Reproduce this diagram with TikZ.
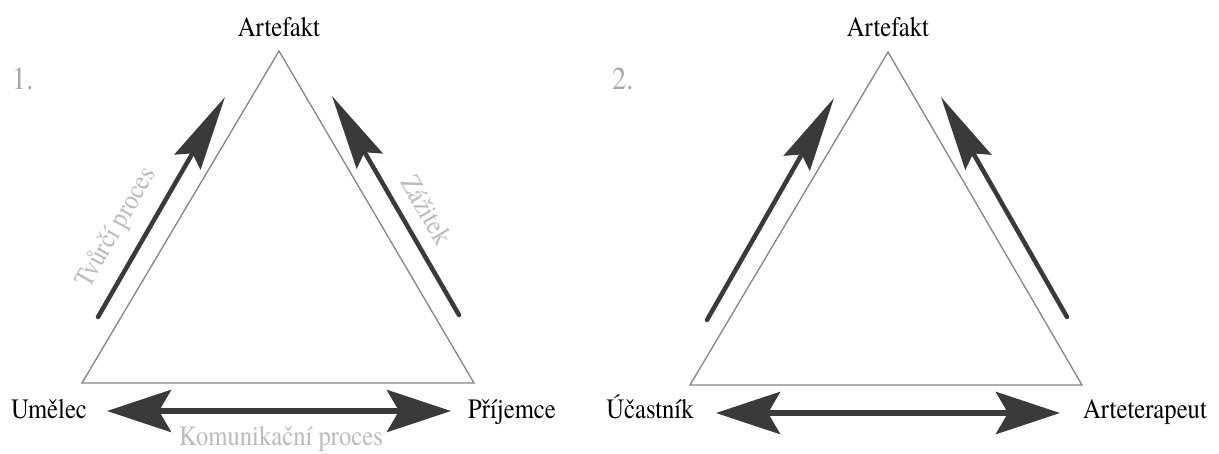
\documentclass[tikz,border=0pt]{standalone}
\usepackage{fontspec}
\newfontfamily\timesfont{texgyretermes-regular}[Extension=.otf, FakeStretch=0.88]
\usetikzlibrary{arrows.meta}
\definecolor{arrowgray}{HTML}{3A3A3A}
\definecolor{trigray}{HTML}{858585}
\definecolor{lightlabel}{HTML}{BBBBBB}
\definecolor{numgray}{HTML}{A8A8A8}
\begin{document}
\begin{tikzpicture}[x=1pt,y=-1pt,
  tri/.style={draw=trigray, line width=1.3pt, line join=miter},
  sidearrow/.style={draw=arrowgray, line width=4.5pt, line cap=round, -{Stealth[length=75pt,width=30pt,inset=10pt]}},
  botarrow/.style={draw=arrowgray, line width=6pt, {Stealth[length=64pt,width=42pt,inset=12pt]}-{Stealth[length=64pt,width=42pt,inset=12pt]}},
  lbl/.style={font=\timesfont\fontsize{28}{30}\selectfont, text=black, inner sep=0pt, anchor=base},
  glbl/.style={font=\timesfont\fontsize{28}{30}\selectfont, text=lightlabel, inner sep=0pt},
  num/.style={font=\timesfont\fontsize{32}{34}\selectfont, text=numgray, inner sep=0pt, anchor=base west}]
\useasboundingbox (0,0) rectangle (1219,454);
\fill[white] (0,0) rectangle (1219,454);
% ---------- panel 1 ----------
\coordinate (A1) at (279,51);
\coordinate (L1) at (82,383);
\coordinate (R1) at (474,383);
\draw[tri] (A1) -- (L1) -- (R1) -- cycle;
\node[lbl] (art1) at (279,37) {Artefakt};
\node[lbl] (um) at (49,418) {Umělec};
\node[lbl] (pr) at (512,418) {Příjemce};
\node[num] (n1) at (12,90) {1.};
\coordinate (t1a) at (98,317);
\coordinate (h1a) at (225,97);
\coordinate (t1b) at (459,315);
\coordinate (h1b) at (332,96);
\coordinate (b1l) at (107,411);
\coordinate (b1r) at (451,411);
\draw[sidearrow] (t1a) -- (h1a);
\draw[sidearrow] (t1b) -- (h1b);
\draw[botarrow] (b1l) -- (b1r);
\node[glbl, rotate=60] (tv) at (117,228) {Tvůrčí proces};
\node[glbl, rotate=-60] (za) at (427,210) {Zážitek};
\node[glbl, anchor=base] (ko) at (281,446) {Komunikační proces};
% ---------- panel 2 ----------
\coordinate (A2) at (888,52);
\coordinate (L2) at (690,385);
\coordinate (R2) at (1082,385);
\draw[tri] (A2) -- (L2) -- (R2) -- cycle;
\node[lbl] (art2) at (888,37) {Artefakt};
\node[lbl] (uc) at (650,418) {Účastník};
\node[lbl] (at) at (1145,418) {Arteterapeut};
\node[num] (n2) at (612,90) {2.};
\coordinate (t2a) at (707,320);
\coordinate (h2a) at (834,98);
\coordinate (t2b) at (1067,317);
\coordinate (h2b) at (941,97);
\coordinate (b2l) at (716,413);
\coordinate (b2r) at (1060,413);
\draw[sidearrow] (t2a) -- (h2a);
\draw[sidearrow] (t2b) -- (h2b);
\draw[botarrow] (b2l) -- (b2r);
\end{tikzpicture}
\end{document}
